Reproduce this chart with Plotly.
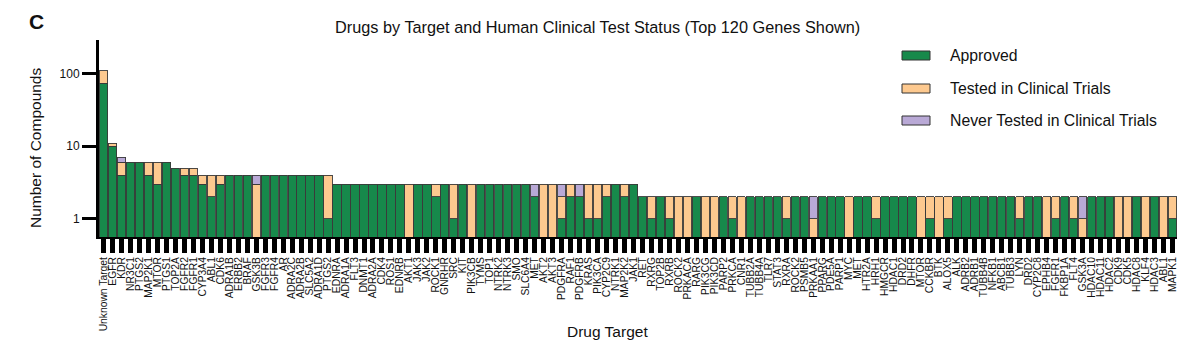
import plotly.graph_objects as go

genes = ["Unknown Target", "EGFR", "KDR", "NR3C1", "PTGS2", "MAP2K1", "MTOR", "PTGS1", "TOP2A", "FGFR2",
         "FGFR1", "CYP3A4", "ABL1", "CDK6", "ADRA1B", "ERBB2", "BRAF", "GSK3B", "FGFR3", "FGFR4",
         "AR", "ADRA2C", "ADRA2B", "SLC5A2", "ADRA1D", "PTGS2", "EDNRA", "ADRA1A", "FLT3", "DNMT1",
         "ADRA2A", "CDK4", "ROS1", "EDNRB", "AKT1", "JAK3", "JAK2", "ROCK1", "GNRHR", "SRC",
         "KIT", "PIK3CB", "TYMS", "TOP1", "NTRK2", "NTRK3", "SMO", "SLC6A4", "MET", "AKT2",
         "AKT3", "PDGFRA", "RAF1", "PDGFRB", "KRAS", "PIK3CA", "CYP2C9", "NTRK1", "MAP2K2", "JAK1",
         "RET", "RXRG", "TOP2B", "RXRB", "ROCK2", "PRKACA", "RARG", "PIK3CG", "PIK3CD", "PARP2",
         "PRKCA", "CNR1", "TUBB2A", "TUBB4A", "TLR7", "STAT3", "RXRA", "ROCK2", "PSMB5", "PRKAA1",
         "PPARG", "PDE5A", "PARP1", "MYC", "MET", "HTR2A", "HRH1", "HMGCR", "HDAC1", "DRD2",
         "DHFR", "MTOR", "CCKBR", "BTK", "ALOX5", "ALK", "ADRB2", "ADRB1", "TUBB4B", "NFKB1",
         "ABCB1", "TUBB3", "LYN", "DRD2", "CYP2C8", "EPHB4", "FGFR1", "FKBP1A", "FLT4", "GSK3A",
         "HDAC10", "HDAC11", "HDAC2", "CDK9", "CDK5", "HDAC8", "KLF4", "HDAC3", "ABL1", "MAPK1"]

approved = [74, 10, 4, 6, 6, 4, 3, 6, 5, 4,
            4, 3, 2, 3, 4, 4, 4, 0, 4, 4,
            4, 4, 4, 4, 4, 1, 3, 3, 3, 3,
            3, 3, 3, 3, 0, 3, 3, 2, 3, 1,
            3, 0, 3, 3, 3, 3, 3, 3, 2, 0,
            0, 1, 2, 2, 1, 1, 2, 3, 2, 3,
            2, 1, 2, 1, 0, 0, 2, 0, 0, 2,
            1, 0, 2, 2, 2, 2, 1, 2, 2, 0,
            2, 2, 2, 0, 2, 2, 1, 2, 2, 2,
            2, 0, 1, 0, 1, 2, 2, 2, 2, 2,
            2, 2, 1, 2, 2, 0, 1, 2, 1, 0,
            2, 2, 2, 0, 0, 2, 0, 2, 0, 1]

tested = [37, 1, 2, 0, 0, 2, 3, 0, 0, 1,
          1, 1, 2, 1, 0, 0, 0, 3, 0, 0,
          0, 0, 0, 0, 0, 3, 0, 0, 0, 0,
          0, 0, 0, 0, 3, 0, 0, 1, 0, 2,
          0, 3, 0, 0, 0, 0, 0, 0, 0, 3,
          3, 1, 1, 0, 2, 2, 1, 0, 1, 0,
          0, 1, 0, 1, 2, 2, 0, 2, 2, 0,
          1, 2, 0, 0, 0, 0, 1, 0, 0, 1,
          0, 0, 0, 2, 0, 0, 1, 0, 0, 0,
          0, 2, 1, 2, 1, 0, 0, 0, 0, 0,
          0, 0, 1, 0, 0, 2, 1, 0, 1, 1,
          0, 0, 0, 2, 2, 0, 2, 0, 2, 1]

never = [0, 0, 1, 0, 0, 0, 0, 0, 0, 0,
         0, 0, 0, 0, 0, 0, 0, 1, 0, 0,
         0, 0, 0, 0, 0, 0, 0, 0, 0, 0,
         0, 0, 0, 0, 0, 0, 0, 0, 0, 0,
         0, 0, 0, 0, 0, 0, 0, 0, 1, 0,
         0, 1, 0, 1, 0, 0, 0, 0, 0, 0,
         0, 0, 0, 0, 0, 0, 0, 0, 0, 0,
         0, 0, 0, 0, 0, 0, 0, 0, 0, 1,
         0, 0, 0, 0, 0, 0, 0, 0, 0, 0,
         0, 0, 0, 0, 0, 0, 0, 0, 0, 0,
         0, 0, 0, 0, 0, 0, 0, 0, 0, 1,
         0, 0, 0, 0, 0, 0, 0, 0, 0, 0]

series_names = ["Approved", "Tested in Clinical Trials", "Never Tested in Clinical Trials"]
series_colors = ["#17894b", "#fdc98f", "#b9a9d6"]
y_ticks = [1, 10, 100]
y_tick_labels = ["1", "10", "100"]

FONT = "Liberation Sans, Arial, sans-serif"
W, H = 1196, 351
ML, MR, MT, MB = 99, 19, 40, 114
PW, PH = W - ML - MR, H - MT - MB

xpos = list(range(len(genes)))
fig = go.Figure()
for name, vals, col in zip(series_names, [approved, tested, never], series_colors):
    fig.add_trace(go.Bar(
        x=xpos, y=[v if v > 0 else None for v in vals], name=name,
        marker=dict(color=col, line=dict(color="#3a3a3a", width=0.9)),
        showlegend=False,
    ))

def px_x(p):
    return (p - ML) / PW

def px_y(p):
    return (H - MB - p) / PH

shapes = []
annotations = []
legend_rows = [55.5, 88.5, 120.5]
for name, col, yc in zip(series_names, series_colors, legend_rows):
    shapes.append(dict(type="rect", xref="paper", yref="paper",
                       x0=px_x(902), x1=px_x(930), y0=px_y(yc + 4.5), y1=px_y(yc - 4.5),
                       fillcolor=col, line=dict(color="#333333", width=1)))
    annotations.append(dict(text=name, xref="paper", yref="paper", x=px_x(948), y=px_y(yc),
                            xanchor="left", yanchor="middle", showarrow=False,
                            font=dict(family=FONT, size=15.8, color="#111111")))

annotations.append(dict(text="<b>C</b>", xref="paper", yref="paper", x=px_x(27), y=px_y(21),
                        xanchor="left", yanchor="middle", showarrow=False,
                        font=dict(family=FONT, size=21, color="#111111")))
annotations.append(dict(text="Number of Compounds", xref="paper", yref="paper", x=px_x(35), y=px_y(148),
                        xanchor="center", yanchor="middle", textangle=-90, showarrow=False,
                        font=dict(family=FONT, size=15.5, color="#111111")))
annotations.append(dict(text="Drug Target", xref="paper", yref="paper", x=px_x(607), y=px_y(331),
                        xanchor="center", yanchor="middle", showarrow=False,
                        font=dict(family=FONT, size=15.5, color="#111111")))
annotations.append(dict(text="Drugs by Target and Human Clinical Test Status (Top 120 Genes Shown)",
                        xref="paper", yref="paper", x=px_x(597), y=px_y(27),
                        xanchor="center", yanchor="middle", showarrow=False,
                        font=dict(family=FONT, size=16.3, color="#111111")))

fig.update_layout(
    width=W, height=H,
    margin=dict(l=ML, r=MR, t=MT, b=MB, pad=0),
    barmode="stack", bargap=0.08,
    plot_bgcolor="white", paper_bgcolor="white",
    font=dict(family=FONT, color="#111111"),
    shapes=shapes, annotations=annotations,
    showlegend=False,
)
fig.update_xaxes(
    range=[-0.5, len(genes) - 0.5], tickmode="array", tickvals=xpos, ticktext=genes,
    tickangle=-90, tickfont=dict(family=FONT, size=10.3, color="#111111"),
    ticks="outside", ticklen=14, tickwidth=5, tickcolor="black",
    showline=True, linecolor="black", linewidth=2, showgrid=False, zeroline=False,
)
fig.update_yaxes(
    type="log", range=[-0.255, 2.47], tickmode="array", tickvals=y_ticks, ticktext=y_tick_labels,
    tickfont=dict(family=FONT, size=12, color="#111111"),
    ticks="outside", ticklen=14, tickwidth=3, tickcolor="black",
    showline=True, linecolor="black", linewidth=3, showgrid=False, zeroline=False,
)
fig.write_html("out.html")
